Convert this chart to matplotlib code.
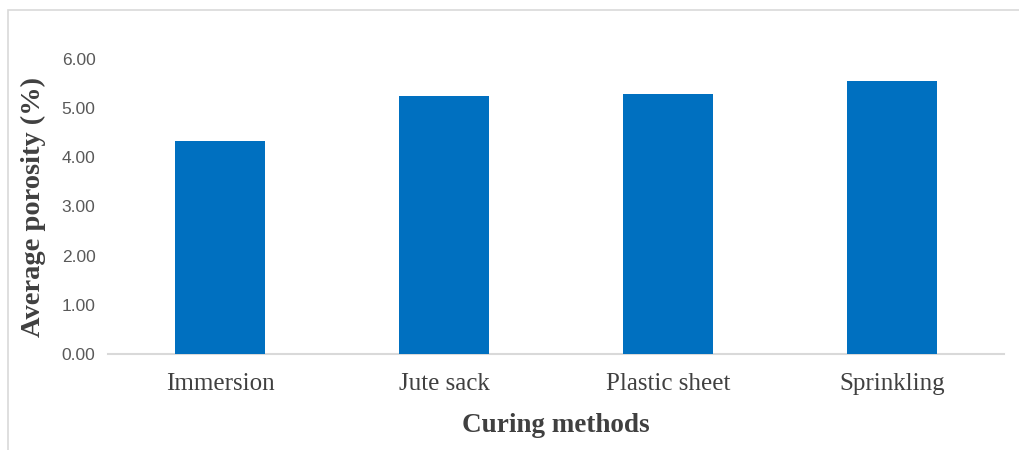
import matplotlib
matplotlib.use("Agg")
import matplotlib.pyplot as plt
from matplotlib.patches import Rectangle

categories = ["Immersion", "Jute sack", "Plastic sheet", "Sprinkling"]
porosity = [4.34, 5.25, 5.29, 5.55]
yticks = [0, 1, 2, 3, 4, 5, 6]

W, H = 1019, 450
fig = plt.figure(figsize=(W / 100, H / 100), dpi=100)
ax = fig.add_axes([108 / W, 1 - 354 / H, (1004 - 108) / W, (354 - 59) / H])

x = range(len(categories))
ax.bar(x, porosity, width=0.4, color="#0070C0", zorder=3)
ax.set_xlim(-0.5, len(categories) - 0.5)
ax.set_ylim(0, 6)
ax.set_yticks(yticks)
ax.set_yticklabels([f"{v:.2f}" for v in yticks], fontfamily="Liberation Sans",
                   fontsize=12.5, color="#595959")
ax.set_xticks(list(x))
ax.set_xticklabels(categories, fontfamily="Liberation Serif", fontsize=18,
                   color="#404040")
ax.tick_params(axis="both", length=0)
ax.tick_params(axis="y", pad=9)
ax.tick_params(axis="x", pad=14)

for s in ["top", "right", "left"]:
    ax.spines[s].set_visible(False)
ax.spines["bottom"].set_color("#D9D9D9")
ax.spines["bottom"].set_linewidth(1.5)

fig.text(33 / W, 1 - 207 / H, "Average porosity (%)", rotation=90,
         ha="center", va="center", fontfamily="Liberation Serif",
         fontweight="bold", fontsize=20.5, color="#404040")
fig.text(556 / W, 1 - 425 / H, "Curing methods", ha="center", va="center",
         fontfamily="Liberation Serif", fontweight="bold", fontsize=19.5,
         color="#404040")

fig.patches.append(Rectangle((8 / W, -0.1), 1.2, 1 - 10 / H + 0.1,
                             transform=fig.transFigure, fill=False,
                             edgecolor="#D9D9D9", linewidth=1.2))

fig.savefig("out.png", dpi=100)
